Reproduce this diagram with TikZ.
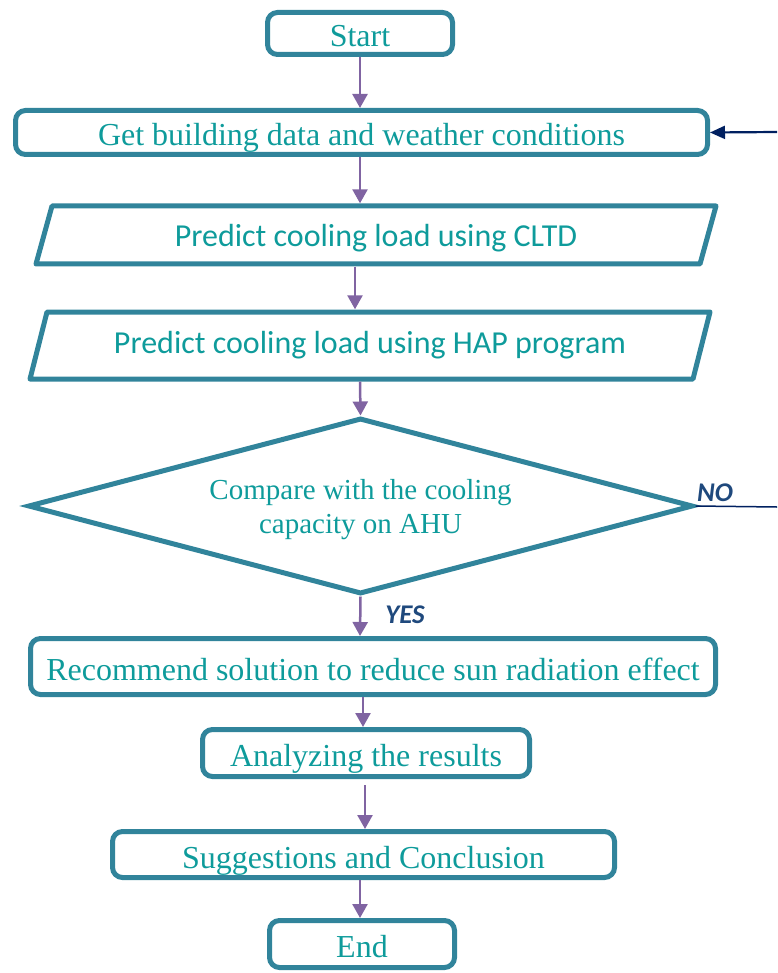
\documentclass[tikz,border=0pt]{standalone}
\usepackage{fontspec}
\setmainfont{Liberation Serif}
\newfontfamily\calibfont{Carlito}
\usetikzlibrary{shapes.geometric,arrows.meta}
\definecolor{boxline}{HTML}{31849B}
\definecolor{txt}{HTML}{0E9B9B}
\definecolor{arrowpurple}{HTML}{8064A2}
\definecolor{navy}{HTML}{002060}
\definecolor{labelblue}{HTML}{1F497D}
\tikzset{
  procbox/.style={draw=boxline, line width=5pt, rounded corners=10pt, text=txt,
    font=\fontsize{32}{38}\selectfont, inner sep=0pt, text height=28pt, text depth=1pt},
  para/.style={draw=none, text=txt, font=\calibfont\fontsize{32}{38}\selectfont, inner sep=0pt},
  paraline/.style={draw=boxline, line width=5pt, line join=round},
  decision/.style={diamond, draw=boxline, line width=5pt, aspect=3.78, inner sep=0pt},
  dectext/.style={text=txt, font=\fontsize{29}{34}\selectfont, align=center, inner sep=0pt},
  flow/.style={draw=arrowpurple, line width=2.5pt, -{Triangle[length=14pt,width=15pt]}},
  back/.style={draw=navy, line width=2.2pt, -{Triangle[length=15pt,width=13pt]}},
  noline/.style={draw=navy, line width=1.5pt},
  yesno/.style={text=labelblue, font=\calibfont\bfseries\itshape\fontsize{27}{30}\selectfont, inner sep=0pt}
}
\begin{document}
\begin{tikzpicture}[x=1pt,y=-1pt]
\useasboundingbox (0,0) rectangle (777,973);
% nodes
\node[procbox, minimum width=185pt, minimum height=42pt] (start) at (360,33.5) {Start};
\node[procbox, minimum width=692pt, minimum height=44pt] (get) at (361.5,132.5) {Get building data and weather conditions};
\draw[paraline] (52,206) -- (716,206) -- (700,264) -- (36,264) -- cycle;
\node[para, minimum width=640pt, minimum height=63pt] (p1) at (376,235) {};
\node[para] (p1txt) at (376,238) {Predict cooling load using CLTD};
\draw[paraline] (47,312) -- (710,312) -- (693,379) -- (30,379) -- cycle;
\node[para, minimum width=640pt, minimum height=72pt] (p2) at (370,345.5) {Predict cooling load using HAP program};
\node[decision, minimum width=665pt, minimum height=176pt] (dec) at (360.5,506) {};
\node[dectext] (dectxt) at ([yshift=-4pt]dec.center) {Compare with the cooling\\capacity on AHU};
\node[procbox, minimum width=685pt, minimum height=56pt] (rec) at (373,666.5) {Recommend solution to reduce sun radiation effect};
\node[procbox, minimum width=327pt, minimum height=47pt] (ana) at (366,753) {Analyzing the results};
\node[procbox, minimum width=502pt, minimum height=46pt] (sug) at (363.5,854.5) {Suggestions and Conclusion};
\node[procbox, minimum width=185pt, minimum height=47pt] (end) at (362,944) {End};
% labels
\node[yesno, anchor=base west] (no) at (697,501) {NO};
\node[yesno, anchor=base] (yes) at (405,623) {YES};
% arrow x positions
\coordinate (xa) at (360,0);
\coordinate (xb) at (355,0);
\coordinate (xc) at (363,0);
\coordinate (xd) at (365,0);
\coordinate (fb) at (777,132);
\coordinate (noend) at (777,507);
% connectors
\draw[flow] (start.south -| xa) -- (get.north -| xa);
\draw[flow] (get.south -| xa) -- (p1.north -| xa);
\draw[flow] (p1.south -| xb) -- (p2.north -| xb);
\draw[flow] (p2.south -| xa) -- (dec.north);
\draw[flow] (dec.south) -- (rec.north -| xa);
\draw[flow] (rec.south -| xc) -- (ana.north -| xc);
\draw[flow, shorten <=6pt] (ana.south -| xd) -- (sug.north -| xd);
\draw[flow] (sug.south -| xa) -- (end.north -| xa);
\draw[back] (fb) -- (get.east);
\draw[noline] (dec.east) -- (noend);
\end{tikzpicture}
\end{document}
